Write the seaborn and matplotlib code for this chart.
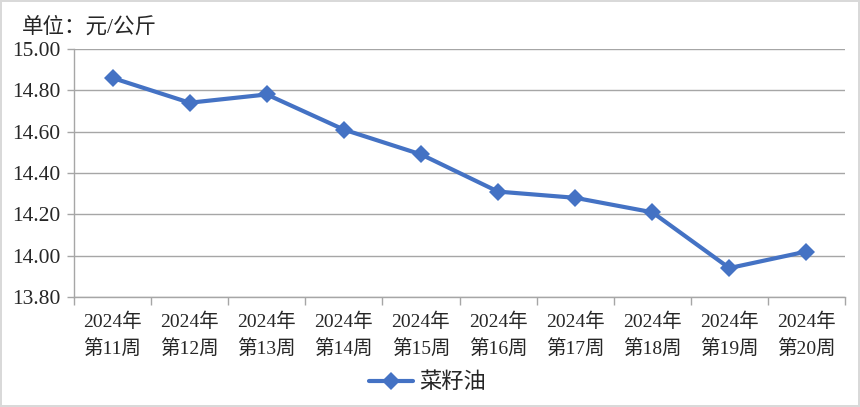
import matplotlib
matplotlib.use("Agg")
import matplotlib.pyplot as plt
import seaborn as sns
import pandas as pd
from matplotlib.ticker import FixedLocator, MultipleLocator

weeks = ["2024年\n第11周", "2024年\n第12周", "2024年\n第13周", "2024年\n第14周", "2024年\n第15周",
         "2024年\n第16周", "2024年\n第17周", "2024年\n第18周", "2024年\n第19周", "2024年\n第20周"]
prices = [14.86, 14.74, 14.78, 14.61, 14.49, 14.31, 14.28, 14.21, 13.94, 14.02]
series_name = "菜籽油"
unit_label = "单位：元/公斤"

sns.set_theme(style="white")
plt.rcParams['font.family'] = ['Liberation Serif', 'Noto Sans CJK SC', 'DejaVu Sans']
text_color = "#262626"

df = pd.DataFrame({"week": weeks, "price": prices, "series": series_name})

fig = plt.figure(figsize=(8.6, 4.07), dpi=100)
fig.patch.set_edgecolor("#d9d9d9")
fig.patch.set_linewidth(1.5)
ax = fig.add_axes([74/860, 110/407, (845-74)/860, (297-49)/407])

sns.lineplot(data=df, x="week", y="price", hue="series", palette=["#4472C4"], sort=False,
             marker="D", markersize=9, markeredgewidth=0, linewidth=3, ax=ax)

ax.set_ylim(13.80, 15.00)
ax.set_xlim(-0.5, len(weeks) - 0.5)
ax.yaxis.set_major_locator(MultipleLocator(0.2))
ax.yaxis.set_major_formatter(matplotlib.ticker.FormatStrFormatter("%.2f"))
ax.grid(axis="y", color="#a6a6a6", linewidth=1)
ax.set_axisbelow(True)
for s in ["top", "right"]:
    ax.spines[s].set_visible(False)
ax.spines["left"].set_color("#a6a6a6")
ax.spines["bottom"].set_color("#a6a6a6")
ax.spines["left"].set_linewidth(1)
ax.spines["bottom"].set_linewidth(1)

ax.xaxis.set_minor_locator(FixedLocator([i - 0.5 for i in range(len(weeks) + 1)]))
ax.tick_params(axis="x", which="major", length=0, pad=11, labelsize=14, labelcolor=text_color)
ax.tick_params(axis="x", which="minor", length=6, color="#a6a6a6", width=1, bottom=True)
ax.tick_params(axis="y", which="major", length=5, color="#a6a6a6", width=1, left=True,
               labelsize=15.5, labelcolor=text_color, pad=5)
ax.set_xlabel("")
ax.set_ylabel("")
for lbl in ax.get_xticklabels():
    lbl.set_linespacing(1.55)

fig.text(22/860, 1 - 27/407, unit_label, fontsize=15.5, color=text_color, va="center", ha="left")

ax.legend_.remove()
handles, labels = ax.get_legend_handles_labels()
fig.legend(handles, labels, loc="center", bbox_to_anchor=(0.497, 1 - 383/407), frameon=False,
           fontsize=16, handlelength=2.0, handletextpad=0.25, labelcolor=text_color)

fig.savefig("out.png", dpi=100, edgecolor=fig.get_edgecolor())
